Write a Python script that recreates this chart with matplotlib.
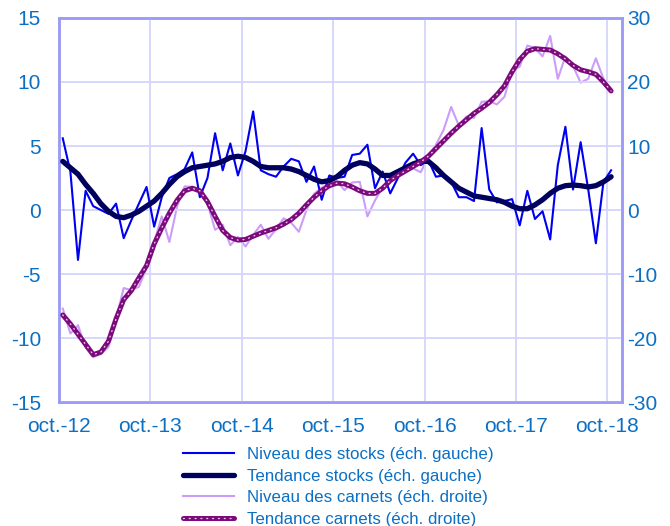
import matplotlib

matplotlib.use("Agg")

import matplotlib.pyplot as plt
import numpy as np
import pandas as pd

plt.rcParams["font.family"] = ["Liberation Sans", "DejaVu Sans"]
plt.rcParams["axes.unicode_minus"] = False

# monthly data, oct. 2012 -> oct. 2018
months = pd.date_range("2012-10-01", periods=73, freq="MS")

stocks_level = [
    5.6, 3.0, -3.9, 1.5, 0.3, 0.0, -0.3, 0.5, -2.2, -0.8, 0.5, 1.8,
    -1.3, 1.0, 2.5, 2.8, 3.2, 4.5, 1.0, 2.5, 6.0, 3.1, 5.2, 2.7,
    4.6, 7.7, 3.1, 2.8, 2.6, 3.4, 4.0, 3.8, 2.2, 3.4, 0.8, 2.7,
    2.5, 2.6, 4.3, 4.4, 5.1, 1.7, 3.0, 1.3, 2.5, 3.7, 4.4, 3.5,
    3.9, 2.6, 2.7, 2.2, 1.0, 1.0, 0.7, 6.4, 1.6, 0.6, 0.7, 0.85,
    -1.2, 1.5, -0.7, -0.1, -2.3, 3.5, 6.5, 1.6, 5.3, 1.6, -2.6, 2.2,
    3.1,
]

stocks_trend = [
    3.8, 3.3, 2.8, 2.0, 1.3, 0.5, -0.1, -0.5, -0.6, -0.4, -0.1, 0.3,
    0.7, 1.3, 2.0, 2.6, 3.0, 3.3, 3.4, 3.5, 3.6, 3.8, 4.1, 4.2,
    4.1, 3.8, 3.4, 3.3, 3.3, 3.3, 3.2, 3.0, 2.7, 2.4, 2.2, 2.3,
    2.6, 3.1, 3.5, 3.7, 3.6, 3.2, 2.7, 2.7, 3.0, 3.3, 3.6, 3.8,
    3.8, 3.3, 2.7, 2.2, 1.7, 1.4, 1.1, 1.0, 0.9, 0.8, 0.6, 0.3,
    0.1, 0.1, 0.4, 0.8, 1.3, 1.7, 1.9, 1.95, 1.9, 1.8, 1.9, 2.2,
    2.6,
]

carnets_level = [
    -15.4, -19.3, -18.0, -21.5, -23.0, -22.5, -21.4, -17.0, -12.2, -12.5, -12.0, -9.0,
    -5.0, -1.0, -5.0, 0.5, 3.7, 3.6, 2.5, 1.0, -3.1, -2.3, -5.5, -4.2,
    -5.7, -3.9, -2.3, -4.5, -3.0, -1.3, -2.0, -3.4, 0.0, 2.5, 3.5, 4.2,
    4.5, 3.1, 4.3, 4.4, -1.0, 1.5, 3.6, 4.5, 5.4, 6.0, 6.5, 5.9,
    8.3, 10.2, 12.5, 16.1, 13.2, 14.6, 14.4, 16.9, 17.0, 16.5, 17.7, 21.8,
    22.4, 25.7, 25.3, 24.0, 27.2, 20.5, 24.0, 22.5, 19.9, 20.5, 23.7, 20.5,
    18.7,
]

carnets_trend = [
    -16.4, -17.8, -19.4, -21.0, -22.6, -22.2, -20.5, -17.0, -14.0, -12.6, -10.6, -8.7,
    -5.3, -2.8, -0.5, 1.5, 3.0, 3.4, 3.0, 1.3, -1.0, -3.2, -4.3, -4.7,
    -4.6, -4.1, -3.6, -3.2, -2.8, -2.2, -1.5, -0.5, 0.8, 2.0, 3.0, 3.8,
    4.2, 4.1, 3.6, 3.0, 2.6, 2.6, 3.4, 4.6, 5.4, 6.1, 6.8, 7.5,
    8.4, 9.6, 10.8, 12.0, 13.1, 14.1, 15.1, 15.9, 16.8, 18.0, 19.4, 21.6,
    23.5, 24.8, 25.2, 25.1, 25.0, 24.4, 23.6, 22.6, 21.9, 21.6, 21.2, 20.0,
    18.6,
]

tick_labels = ["oct.-12", "oct.-13", "oct.-14", "oct.-15", "oct.-16", "oct.-17", "oct.-18"]
legend_labels = [
    "Niveau des stocks (éch. gauche)",
    "Tendance stocks (éch. gauche)",
    "Niveau des carnets (éch. droite)",
    "Tendance carnets (éch. droite)",
]

text_color = "#0b6fc4"
spine_color = "#9b9bf5"
grid_color = "#d4d4fb"

x = np.arange(len(months))

fig = plt.figure(figsize=(6.7, 5.26), dpi=100)
ax = fig.add_axes([0.088, 0.2357, 0.84, 0.7301])
ax2 = ax.twinx()

ax.set_zorder(ax2.get_zorder() + 1)
ax.patch.set_visible(False)

# right axis series drawn on ax2, left ones on ax
l3, = ax2.plot(x, carnets_level, color="#cc9cf7", linewidth=1.5, zorder=2)
l1, = ax.plot(x, stocks_level, color="#0000f0", linewidth=1.5, zorder=2)
l2, = ax.plot(x, stocks_trend, color="#00005e", linewidth=3.8, solid_capstyle="round", zorder=3)

# carnets trend goes on ax too (rescaled through the right axis limits) so it sits on top
ax2_lim = (-30, 30)
ax_lim = (-15, 15)
scale = (ax_lim[1] - ax_lim[0]) / (ax2_lim[1] - ax2_lim[0])
carnets_trend_left = [v * scale for v in carnets_trend]
l4a, = ax.plot(x, carnets_trend_left, color="#7d0a7d", linewidth=3.6, solid_capstyle="round", zorder=4)
l4b, = ax.plot(x, carnets_trend_left, color="#e6c8e6", linewidth=1.0, linestyle=(0, (0.6, 3.6)),
               dash_capstyle="round", zorder=5)

ax.set_xlim(-0.5, 73.4)
ax.set_ylim(*ax_lim)
ax2.set_ylim(*ax2_lim)
ax.set_yticks(np.arange(-15, 16, 5))
ax2.set_yticks(np.arange(-30, 31, 10))
ax.set_xticks(np.arange(len(tick_labels)) * 12 - 0.5)
ax.set_xticklabels(tick_labels)

ax.grid(True, color=grid_color, linewidth=1.3)
ax.set_axisbelow(True)

for a in (ax, ax2):
    for side in a.spines:
        a.spines[side].set_color(spine_color)
        a.spines[side].set_linewidth(1.8)

ax.tick_params(axis="y", length=0, pad=13, labelsize=15, labelcolor=text_color)
ax.tick_params(axis="x", length=0, pad=11, labelsize=15, labelcolor=text_color)
ax2.tick_params(axis="y", length=0, pad=4, labelsize=15, labelcolor=text_color)

fig.legend(
    [l1, l2, l3, (l4a, l4b)],
    legend_labels,
    loc="upper center",
    bbox_to_anchor=(0.505, 0.172),
    frameon=False,
    fontsize=12.2,
    labelcolor=text_color,
    handlelength=3.0,
    labelspacing=0.38,
    handletextpad=0.8,
    borderpad=0.2,
)

fig.savefig("out.png", dpi=100)
